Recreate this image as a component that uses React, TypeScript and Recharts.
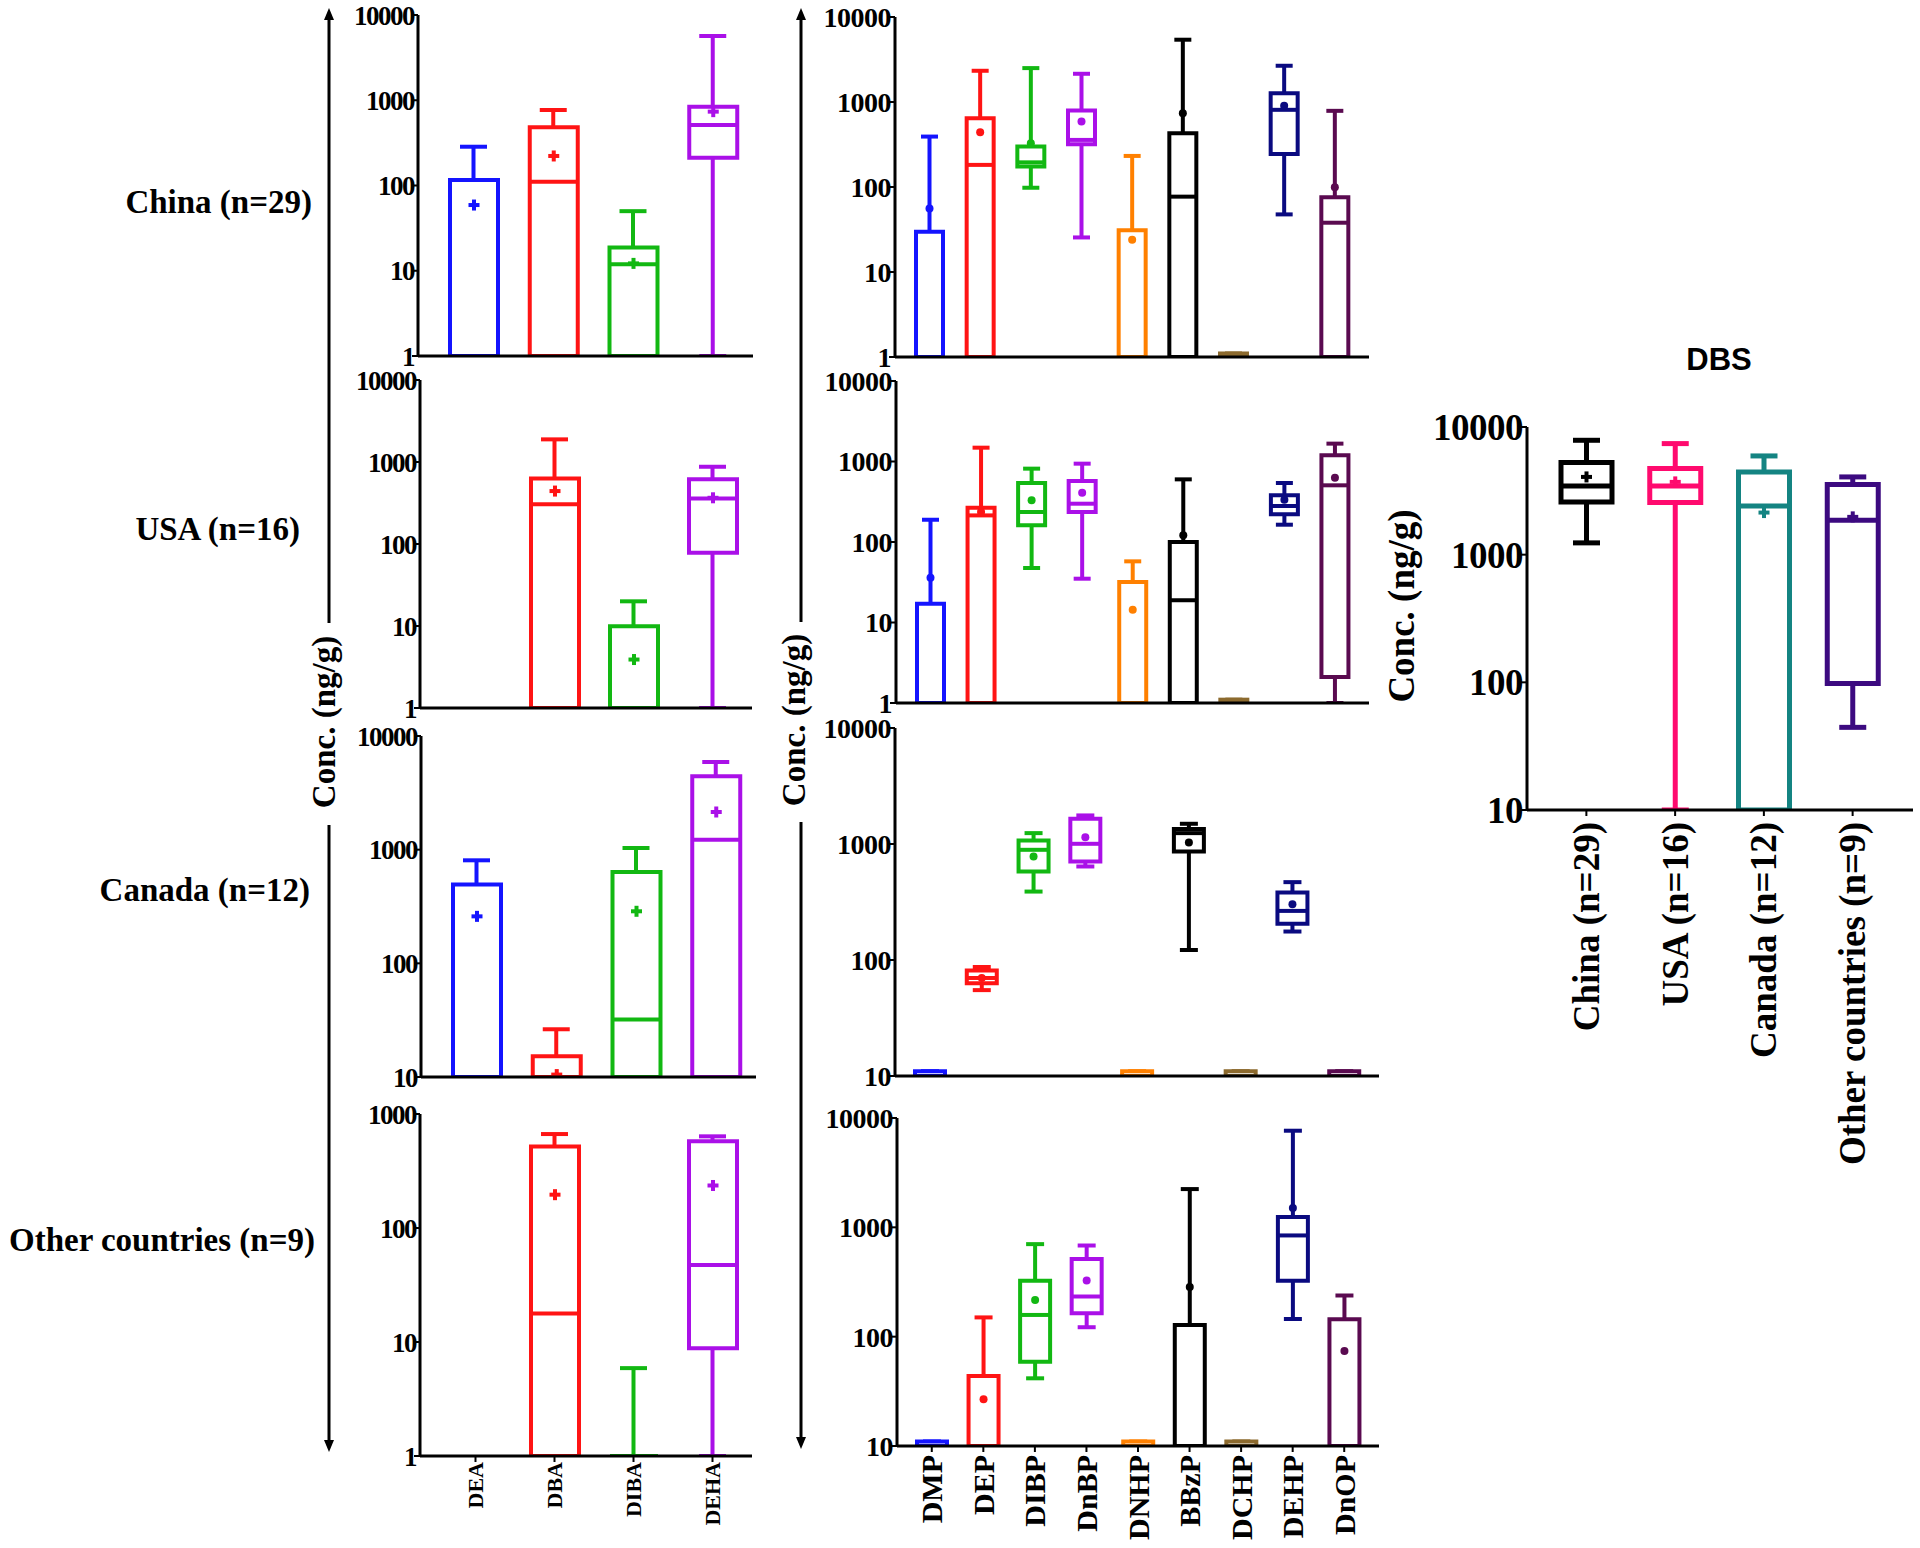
import React from "react";
import { ComposedChart, Bar, XAxis, YAxis, Cell } from "recharts";

const SERIF = '"Liberation Serif", "Times New Roman", serif';

const ADIPATES = ["DEA", "DBA", "DIBA", "DEHA"];
const PHTHALATES = ["DMP", "DEP", "DIBP", "DnBP", "DNHP", "BBzP", "DCHP", "DEHP", "DnOP"];
const DBS_GROUPS = ["China (n=29)", "USA (n=16)", "Canada (n=12)", "Other countries (n=9)"];

const ADIPATE_COLORS = ["#1414ff", "#ff1414", "#12b812", "#aa10e8"];
const PHTHALATE_COLORS = ["#1414ff", "#ff1414", "#12b812", "#aa10e8", "#ff8000", "#000000", "#8c6a2e", "#0a0a80", "#5a0a50"];
const DBS_COLORS = ["#000000", "#ff0a6e", "#148482", "#3c0a80"];

// each entry: [min, q1, median, q3, max, mean], null = not detected
const CHINA_ADIPATES = [
  [1, 1, 1, 116, 285, 59],
  [1, 1, 111, 481, 769, 222],
  [1, 1, 11.9, 18.8, 50, 12.2],
  [1, 212, 512, 841, 5670, 735],
];
const USA_ADIPATES = [
  null,
  [1, 1, 306, 631, 1888, 442],
  [1, 1, 1, 9.9, 20, 3.9],
  [1, 78, 359, 618, 875, 366],
];
const CANADA_ADIPATES = [
  [10, 10, 10, 495, 806, 259],
  [10, 10, 10, 15.2, 26.3, 10.5],
  [10, 10, 32, 636, 1034, 287],
  [10, 10, 1224, 4418, 5906, 2145],
];
const OTHER_ADIPATES = [
  null,
  [1, 1, 17.8, 520, 667, 196],
  [1, 1, 1, 1, 5.9, null],
  [1, 8.8, 47.4, 576, 637, 236],
];

const CHINA_PHTHALATES = [
  [1, 1, 1, 29.7, 392, 56],
  [1, 1, 182, 645, 2330, 441],
  [98, 174, 195, 299, 2505, 327],
  [25.5, 318, 358, 794, 2148, 589],
  [1, 1, 1, 31, 232, 24],
  [1, 1, 77, 429, 5405, 738],
  [1, 1, 1, 1.1, 1.1, null],
  [47.6, 245, 809, 1271, 2669, 901],
  [1, 1, 38, 75.5, 787, 99],
];
const USA_PHTHALATES = [
  [1, 1, 1, 17.1, 189, 36],
  [1, 1, 214, 267, 1485, 236],
  [47.5, 161, 236, 541, 815, 329],
  [35, 236, 299, 573, 940, 410],
  [1, 1, 1, 31.8, 57.5, 14.4],
  [1, 1, 18.9, 100, 600, 121],
  [1, 1, 1, 1.1, 1.1, null],
  [164, 221, 280, 380, 541, 336],
  [1, 2.1, 506, 1193, 1667, 630],
];
const CANADA_PHTHALATES = [
  [10, 10, 10, 11, 11, null],
  [55, 63, 70, 81, 87, 70],
  [389, 580, 891, 1072, 1241, 780],
  [640, 707, 1004, 1649, 1763, 1146],
  [10, 10, 10, 11, 11, null],
  [122, 862, 1241, 1344, 1494, 1031],
  [10, 10, 10, 11, 11, null],
  [176, 205, 265, 382, 469, 303],
  [10, 10, 10, 11, 11, null],
];
const OTHER_PHTHALATES = [
  [10, 10, 10, 11, 11, null],
  [10, 10, 10, 43.7, 150, 26.7],
  [41.6, 59, 158, 324, 702, 217],
  [122, 164, 233, 512, 682, 326],
  [10, 10, 10, 11, 11, null],
  [10, 10, 10, 128, 2238, 284],
  [10, 10, 10, 11, 11, null],
  [145, 324, 843, 1240, 7650, 1500],
  [10, 10, 10, 144, 238, 74],
];

const DBS_STATS = [
  [1237, 2589, 3455, 5260, 7870, 4064],
  [10, 2559, 3455, 4721, 7413, 3715],
  [10, 10, 2410, 4446, 5934, 2137],
  [44.4, 98, 1862, 3540, 4064, 1977],
];

const TICKS_4 = [1, 10, 100, 1000, 10000];
const TICKS_3 = [10, 100, 1000, 10000];
const TICKS_3LOW = [1, 10, 100, 1000];

function buildRows(names: string[], stats: (number[] | null)[]) {
  return names.map((name, i) => {
    const s = stats[i];
    if (!s) return { name, whisker: null, box: null, med: null, mean: null };
    return {
      name,
      whisker: [s[0], s[4]],
      box: [s[1], s[3]],
      med: [s[2], s[2]],
      mean: s[5] == null ? null : [s[5], s[5]],
    };
  });
}

const span = (p: any) => ({
  top: Math.min(p.y, p.y + p.height),
  bot: Math.max(p.y, p.y + p.height),
  cx: p.x + p.width / 2,
});

const ok = (p: any, key: string) => p.payload && p.payload[key] && isFinite(p.y) && isFinite(p.height);

function whiskerShape(capW: number, sw: number) {
  return (p: any) => {
    if (!ok(p, "whisker")) return <g />;
    const { top, bot, cx } = span(p);
    return (
      <g stroke={p.fill} strokeWidth={sw} fill="none">
        <line x1={cx} x2={cx} y1={top} y2={bot} />
        <line x1={cx - capW / 2} x2={cx + capW / 2} y1={top} y2={top} />
        <line x1={cx - capW / 2} x2={cx + capW / 2} y1={bot} y2={bot} />
      </g>
    );
  };
}

function boxShape(sw: number) {
  return (p: any) => {
    if (!ok(p, "box")) return <g />;
    const { top, bot } = span(p);
    return (
      <path
        d={`M${p.x},${top}H${p.x + p.width}V${bot}H${p.x}Z`}
        fill="#fff"
        stroke={p.fill}
        strokeWidth={sw}
      />
    );
  };
}

function medianShape(sw: number) {
  return (p: any) => {
    if (!ok(p, "med")) return <g />;
    return <line x1={p.x} x2={p.x + p.width} y1={p.y} y2={p.y} stroke={p.fill} strokeWidth={sw} />;
  };
}

function meanShape(kind: "plus" | "dot", size: number) {
  return (p: any) => {
    if (!ok(p, "mean")) return <g />;
    const cx = p.x + p.width / 2;
    if (kind === "dot") return <circle cx={cx} cy={p.y} r={size / 2} fill={p.fill} />;
    const t = 4;
    return (
      <g fill={p.fill}>
        <rect x={cx - size / 2} y={p.y - t / 2} width={size} height={t} />
        <rect x={cx - t / 2} y={p.y - size / 2} width={t} height={size} />
      </g>
    );
  };
}

interface PanelProps {
  names: string[];
  colors: string[];
  stats: (number[] | null)[];
  x0: number;
  x1: number;
  y0: number;
  y1: number;
  domain: [number, number];
  ticks: number[];
  padL: number;
  padR: number;
  boxW: number;
  capW: number;
  meanKind: "plus" | "dot";
  meanSize: number;
  sw: number;
  tickFont: number;
  tickSpacing: number;
  label?: { font: number; gap: number; height: number };
}

function Panel(props: PanelProps) {
  const { names, colors, stats, x0, x1, y0, y1, domain, ticks, padL, padR, boxW, capW, meanKind, meanSize, sw, tickFont, tickSpacing, label } = props;
  const YW = 130;
  const MT = 24;
  const MR = 12;
  const XH = label ? label.height : 22;
  const rows = buildRows(names, stats);
  const width = YW + (x1 - x0) + MR;
  const height = MT + (y1 - y0) + XH;
  const cells = colors.map((c, i) => <Cell key={i} fill={c} />);
  const axisX = { dataKey: "name", type: "category" as const, padding: { left: padL, right: padR }, interval: 0 };

  const rotTick = (p: any) => {
    if (!label) return <g />;
    return (
      <g transform={`translate(${p.x},${p.y + label.gap}) rotate(-90)`}>
        <text
          x={0}
          y={0}
          textAnchor="end"
          dominantBaseline="central"
          fontFamily={SERIF}
          fontWeight={700}
          fontSize={label.font}
          fill="#000"
        >
          {p.payload.value}
        </text>
      </g>
    );
  };

  return (
    <div style={{ position: "absolute", left: x0 - YW, top: y0 - MT }}>
      <ComposedChart width={width} height={height} data={rows} margin={{ top: MT, right: MR, left: 0, bottom: 0 }}>
        <XAxis
          xAxisId="main"
          {...axisX}
          height={XH}
          axisLine={{ stroke: "#000", strokeWidth: 3 }}
          tickLine={{ stroke: "#000", strokeWidth: 2 }}
          tickSize={6}
          tickMargin={0}
          tick={label ? rotTick : false}
        />
        <XAxis xAxisId="box" {...axisX} height={0} hide />
        <XAxis xAxisId="med" {...axisX} height={0} hide />
        <XAxis xAxisId="mean" {...axisX} height={0} hide />
        <YAxis
          type="number"
          scale="log"
          domain={domain}
          ticks={ticks}
          allowDataOverflow
          interval={0}
          width={YW}
          axisLine={{ stroke: "#000", strokeWidth: 3 }}
          tickLine={{ stroke: "#000", strokeWidth: 2 }}
          tickSize={6}
          tickMargin={-2}
          tick={{ fill: "#000", fontSize: tickFont, fontFamily: SERIF, fontWeight: 700, letterSpacing: tickSpacing }}
          tickFormatter={(v: number) => String(v)}
        />
        <Bar xAxisId="main" dataKey="whisker" barSize={capW} shape={whiskerShape(capW, sw)} isAnimationActive={false}>
          {cells}
        </Bar>
        <Bar xAxisId="box" dataKey="box" barSize={boxW} shape={boxShape(sw)} isAnimationActive={false}>
          {cells}
        </Bar>
        <Bar xAxisId="med" dataKey="med" barSize={boxW} shape={medianShape(sw)} isAnimationActive={false}>
          {cells}
        </Bar>
        <Bar xAxisId="mean" dataKey="mean" barSize={boxW} shape={meanShape(meanKind, meanSize)} isAnimationActive={false}>
          {cells}
        </Bar>
      </ComposedChart>
    </div>
  );
}

const ADIP = { names: ADIPATES, colors: ADIPATE_COLORS, padL: 16, padR: 0, boxW: 48, capW: 27, meanKind: "plus" as const, meanSize: 11, sw: 4, tickFont: 27, tickSpacing: -1.5 };
const PHTH = { names: PHTHALATES, colors: PHTHALATE_COLORS, padL: 9, padR: 9, boxW: 27, capW: 17, meanKind: "dot" as const, meanSize: 8, sw: 4, tickFont: 28, tickSpacing: -0.5 };

function Arrow({ x, top, bottom, gapTop, gapBottom }: { x: number; top: number; bottom: number; gapTop: number; gapBottom: number }) {
  return (
    <g>
      <line x1={x} x2={x} y1={top + 8} y2={gapTop} stroke="#000" strokeWidth={3} />
      <line x1={x} x2={x} y1={gapBottom} y2={bottom - 8} stroke="#000" strokeWidth={3} />
      <polygon points={`${x},${top} ${x - 5},${top + 12} ${x + 5},${top + 12}`} fill="#000" />
      <polygon points={`${x},${bottom} ${x - 5},${bottom - 12} ${x + 5},${bottom - 12}`} fill="#000" />
    </g>
  );
}

export default function App() {
  const bold = { fontFamily: SERIF, fontWeight: 700, fill: "#000" };
  return (
    <div style={{ position: "absolute", left: 0, top: 0, width: 1920, height: 1548, background: "#fff", overflow: "hidden" }}>
      <svg width={1920} height={1548} style={{ position: "absolute", left: 0, top: 0 }}>
        <text x={312} y={213} textAnchor="end" fontSize={33} {...bold}>China (n=29)</text>
        <text x={300} y={540} textAnchor="end" fontSize={33} {...bold}>USA (n=16)</text>
        <text x={310} y={901} textAnchor="end" fontSize={33} {...bold}>Canada (n=12)</text>
        <text x={315} y={1251} textAnchor="end" fontSize={33} {...bold}>Other countries (n=9)</text>

        <Arrow x={329} top={8} bottom={1452} gapTop={623} gapBottom={825} />
        <text transform="translate(324,722) rotate(-90)" textAnchor="middle" dominantBaseline="central" fontSize={33} {...bold}>
          Conc. (ng/g)
        </text>

        <Arrow x={801} top={8} bottom={1449} gapTop={622} gapBottom={822} />
        <text transform="translate(794,720) rotate(-90)" textAnchor="middle" dominantBaseline="central" fontSize={33} {...bold}>
          Conc. (ng/g)
        </text>

        <text x={1719} y={370} textAnchor="middle" fontSize={31} fontFamily="Arial, 'Liberation Sans', sans-serif" fontWeight={700} fill="#000">
          DBS
        </text>
        <text transform="translate(1401,606) rotate(-90)" textAnchor="middle" dominantBaseline="central" fontSize={37} {...bold}>
          Conc. (ng/g)
        </text>
      </svg>

      <Panel {...ADIP} stats={CHINA_ADIPATES} x0={418} x1={753} y0={15} y1={356} domain={[1, 10000]} ticks={TICKS_4} />
      <Panel {...ADIP} stats={USA_ADIPATES} x0={420} x1={752} y0={380} y1={708} domain={[1, 10000]} ticks={TICKS_4} />
      <Panel {...ADIP} stats={CANADA_ADIPATES} x0={421} x1={756} y0={736} y1={1077} domain={[10, 10000]} ticks={TICKS_3} />
      <Panel
        {...ADIP}
        stats={OTHER_ADIPATES}
        x0={420}
        x1={752}
        y0={1114}
        y1={1456}
        domain={[1, 1000]}
        ticks={TICKS_3LOW}
        label={{ font: 22, gap: 0, height: 90 }}
      />

      <Panel {...PHTH} stats={CHINA_PHTHALATES} x0={895} x1={1369} y0={17} y1={357} domain={[1, 10000]} ticks={TICKS_4} />
      <Panel {...PHTH} stats={USA_PHTHALATES} x0={896} x1={1369} y0={381} y1={703} domain={[1, 10000]} ticks={TICKS_4} />
      <Panel {...PHTH} boxW={30} capW={18} stats={CANADA_PHTHALATES} x0={895} x1={1379} y0={728} y1={1076} domain={[10, 10000]} ticks={TICKS_3} />
      <Panel
        {...PHTH}
        boxW={30}
        capW={18}
        stats={OTHER_PHTHALATES}
        x0={897}
        x1={1379}
        y0={1118}
        y1={1446}
        domain={[10, 10000]}
        ticks={TICKS_3}
        label={{ font: 30, gap: 3, height: 110 }}
      />

      <Panel
        names={DBS_GROUPS}
        colors={DBS_COLORS}
        stats={DBS_STATS}
        x0={1527}
        x1={1913}
        y0={427}
        y1={810}
        padL={15}
        padR={16}
        boxW={51}
        capW={27}
        meanKind="plus"
        meanSize={11}
        sw={5}
        tickFont={37}
        tickSpacing={-0.5}
        domain={[10, 10000]}
        ticks={TICKS_3}
        label={{ font: 37, gap: 6, height: 380 }}
      />
    </div>
  );
}
